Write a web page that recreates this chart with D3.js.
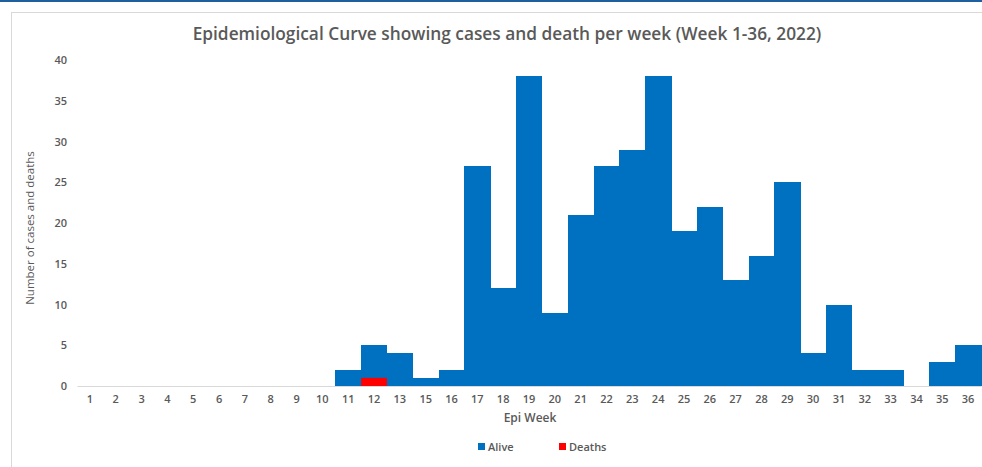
<!DOCTYPE html>
<html>
<head>
<meta charset="utf-8">
<script src="https://cdn.jsdelivr.net/npm/d3@7"></script>
<style>
  html, body { margin: 0; padding: 0; background: #ffffff; }
  svg { display: block; }
</style>
</head>
<body>
<svg id="chart" width="982" height="467"></svg>
<script>
// ---- Data ----
const weeks = ["1","2","3","4","5","6","7","8","9","10","11","12","13","15","16","17","18","19","20","21","22","23","24","25","26","27","28","29","30","31","32","33","34","35","36"];
const alive = [0,0,0,0,0,0,0,0,0,0,2,5,4,1,2,27,12,38,9,21,27,29,38,19,22,13,16,25,4,10,2,2,0,3,5];
const deaths = [0,0,0,0,0,0,0,0,0,0,0,1,0,0,0,0,0,0,0,0,0,0,0,0,0,0,0,0,0,0,0,0,0,0,0];
const yTicks = [0,5,10,15,20,25,30,35,40];
const seriesNames = ["Alive","Deaths"];
const seriesColors = ["#0070c0","#ff0000"];
const titleText = "Epidemiological Curve showing cases and death per week (Week 1-36, 2022)";

// ---- Layout ----
const svg = d3.select("#chart");
const W = 982, H = 467;
const plot = { left: 77, right: 981, top: 60, bottom: 386 };
const textColor = "#595959";
const font = "'Open Sans', 'Liberation Sans', sans-serif";

// top blue rule and chart frame
svg.append("rect").attr("x", 0).attr("y", 0).attr("width", W).attr("height", 2).attr("fill", "#1f5f9f");
svg.append("rect").attr("x", 11.5).attr("y", 12.5).attr("width", W + 10).attr("height", H + 10)
  .attr("fill", "#ffffff").attr("stroke", "#d9d9d9").attr("stroke-width", 1);

const x = d3.scaleBand().domain(weeks).range([plot.left, plot.right]).paddingInner(0).paddingOuter(0);
const y = d3.scaleLinear().domain([0, 40]).range([plot.bottom, plot.top]);

// title
const title = svg.append("text").attr("x", 507).attr("y", 40).attr("text-anchor", "middle")
  .attr("font-family", font).attr("font-weight", 600).attr("font-size", 16).attr("fill", textColor)
  .text(titleText);
const tw = title.node().getComputedTextLength();
title.attr("font-size", 16 * 629 / tw);

// bars: Alive
svg.append("g").attr("shape-rendering", "crispEdges").selectAll("rect").data(weeks).join("rect")
  .attr("x", d => x(d)).attr("width", x.bandwidth() + 0.5)
  .attr("y", (d, i) => y(alive[i]))
  .attr("height", (d, i) => y(0) - y(alive[i]))
  .attr("fill", seriesColors[0]);

// bars: Deaths (drawn in front, overlapping)
svg.append("g").selectAll("rect").data(weeks).join("rect")
  .attr("x", d => x(d)).attr("width", x.bandwidth())
  .attr("y", (d, i) => y(deaths[i]))
  .attr("height", (d, i) => y(0) - y(deaths[i]))
  .attr("fill", seriesColors[1]);

// x axis
const xAxis = svg.append("g").attr("transform", `translate(0,${plot.bottom})`)
  .call(d3.axisBottom(x).tickSize(0).tickPadding(9));
xAxis.select(".domain").attr("stroke", "#d9d9d9").attr("stroke-width", 1);
xAxis.selectAll("text").attr("font-family", font).attr("font-weight", 600).attr("font-size", 11).attr("fill", textColor);

// y axis
const yAxis = svg.append("g").attr("transform", `translate(${plot.left},0)`)
  .call(d3.axisLeft(y).tickValues(yTicks).tickSize(0).tickPadding(10));
yAxis.select(".domain").remove();
yAxis.selectAll("text").attr("font-family", font).attr("font-weight", 600).attr("font-size", 11).attr("fill", textColor);

// axis titles
svg.append("text").attr("x", 530).attr("y", 422).attr("text-anchor", "middle")
  .attr("font-family", font).attr("font-weight", 600).attr("font-size", 12).attr("fill", textColor).text("Epi Week");
svg.append("text").attr("transform", `translate(34,${(plot.top + plot.bottom) / 2 + 5}) rotate(-90)`)
  .attr("text-anchor", "middle").attr("font-family", font).attr("font-size", 11.5).attr("fill", textColor)
  .text("Number of cases and deaths");

// legend
const legendX = [478, 559];
const lg = svg.append("g");
seriesNames.forEach((n, i) => {
  lg.append("rect").attr("x", legendX[i]).attr("y", 443).attr("width", 7).attr("height", 7).attr("fill", seriesColors[i]);
  lg.append("text").attr("x", legendX[i] + 10).attr("y", 450.5)
    .attr("font-family", font).attr("font-weight", 600).attr("font-size", 11).attr("fill", textColor).text(n);
});
</script>
</body>
</html>
